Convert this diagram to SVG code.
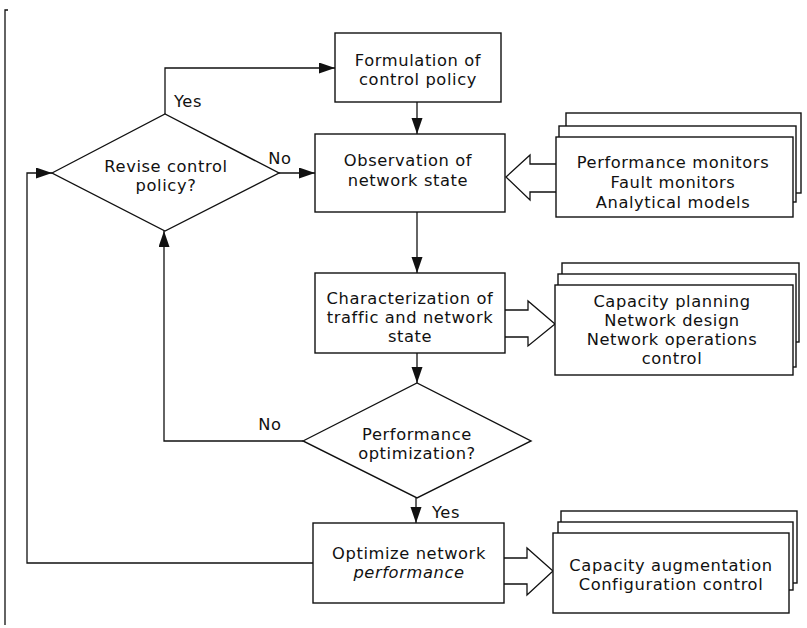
<svg xmlns="http://www.w3.org/2000/svg" width="807" height="628" viewBox="0 0 807 628">
<defs>
<style>
.box{fill:#fff;stroke:#111;stroke-width:1.4}
.ln{fill:none;stroke:#111;stroke-width:1.3}
.ha{fill:#fff;stroke:#111;stroke-width:1.3;stroke-linejoin:miter}
text{font-family:"DejaVu Sans","Open Sans","Liberation Sans",sans-serif;font-size:16.3px;letter-spacing:0.6px;fill:#111;text-anchor:middle}
.it{font-style:italic}
</style>
<marker id="ah" markerUnits="userSpaceOnUse" markerWidth="17" markerHeight="12" refX="16" refY="5.5" orient="auto">
<path d="M0,0 L16,5.5 L0,11 z" fill="#111"/>
</marker>
</defs>
<rect width="807" height="628" fill="#fff"/>
<g id="frame"><path class="ln" d="M8,10 H5 V625"/></g>

<g id="connectors">
<path class="ln" d="M165,114 V68 H335" marker-end="url(#ah)"/>
<path class="ln" d="M417,102 V134" marker-end="url(#ah)"/>
<path class="ln" d="M279,173 H315" marker-end="url(#ah)"/>
<path class="ln" d="M417,212 V273" marker-end="url(#ah)"/>
<path class="ln" d="M417,353 V383" marker-end="url(#ah)"/>
<path class="ln" d="M303,441 H164 V231" marker-end="url(#ah)"/>
<path class="ln" d="M416,498 V523" marker-end="url(#ah)"/>
<path class="ln" d="M313,563 H27 V173 H52" marker-end="url(#ah)"/>
<polyline class="ha" points="556,164 530,164 530,155 506,177 530,200 530,192 556,192"/>
<polyline class="ha" points="505,310 528,310 528,301 555,324 528,346 528,337 505,337"/>
<polyline class="ha" points="504,558 527,558 527,548 553,571 527,595 527,584 504,584"/>
</g>

<g id="formulation">
<rect class="box" x="335" y="33" width="166" height="69"/>
<text x="418" y="66">Formulation of</text>
<text x="418" y="85">control policy</text>
</g>

<g id="revise">
<polygon class="box" points="52,173 165,114 279,173 165,231"/>
<text x="166" y="172">Revise control</text>
<text x="166" y="191">policy?</text>
</g>

<g id="observation">
<rect class="box" x="315" y="134" width="190" height="78"/>
<text x="408" y="166">Observation of</text>
<text x="408" y="186">network state</text>
</g>

<g id="monitors">
<rect class="box" x="566" y="113" width="235" height="80"/>
<rect class="box" x="559" y="126" width="237" height="76"/>
<rect class="box" x="556" y="137" width="237" height="80"/>
<text x="673" y="168">Performance monitors</text>
<text x="673" y="188">Fault monitors</text>
<text x="673" y="208">Analytical models</text>
</g>

<g id="characterization">
<rect class="box" x="315" y="273" width="190" height="80"/>
<text x="410" y="304">Characterization of</text>
<text x="410" y="323">traffic and network</text>
<text x="410" y="342">state</text>
</g>

<g id="planning">
<rect class="box" x="562" y="263" width="237" height="79"/>
<rect class="box" x="558" y="274" width="238" height="93"/>
<rect class="box" x="555" y="285" width="238" height="90"/>
<text x="672" y="307">Capacity planning</text>
<text x="672" y="326">Network design</text>
<text x="672" y="345">Network operations</text>
<text x="672" y="364">control</text>
</g>

<g id="performance">
<polygon class="box" points="303,441 417,383 531,441 417,498"/>
<text x="417" y="440">Performance</text>
<text x="417" y="459">optimization?</text>
</g>

<g id="optimize">
<rect class="box" x="313" y="523" width="191" height="80"/>
<text x="409" y="559">Optimize network</text>
<text x="409" y="578" class="it">performance</text>
</g>

<g id="augmentation">
<rect class="box" x="561" y="511" width="236" height="72"/>
<rect class="box" x="558" y="522" width="235" height="68"/>
<rect class="box" x="553" y="533" width="236" height="80"/>
<text x="671" y="571">Capacity augmentation</text>
<text x="671" y="590">Configuration control</text>
</g>

<g id="labels">
<text x="188" y="107">Yes</text>
<text x="280" y="164">No</text>
<text x="270" y="430">No</text>
<text x="446" y="518">Yes</text>
</g>
</svg>
